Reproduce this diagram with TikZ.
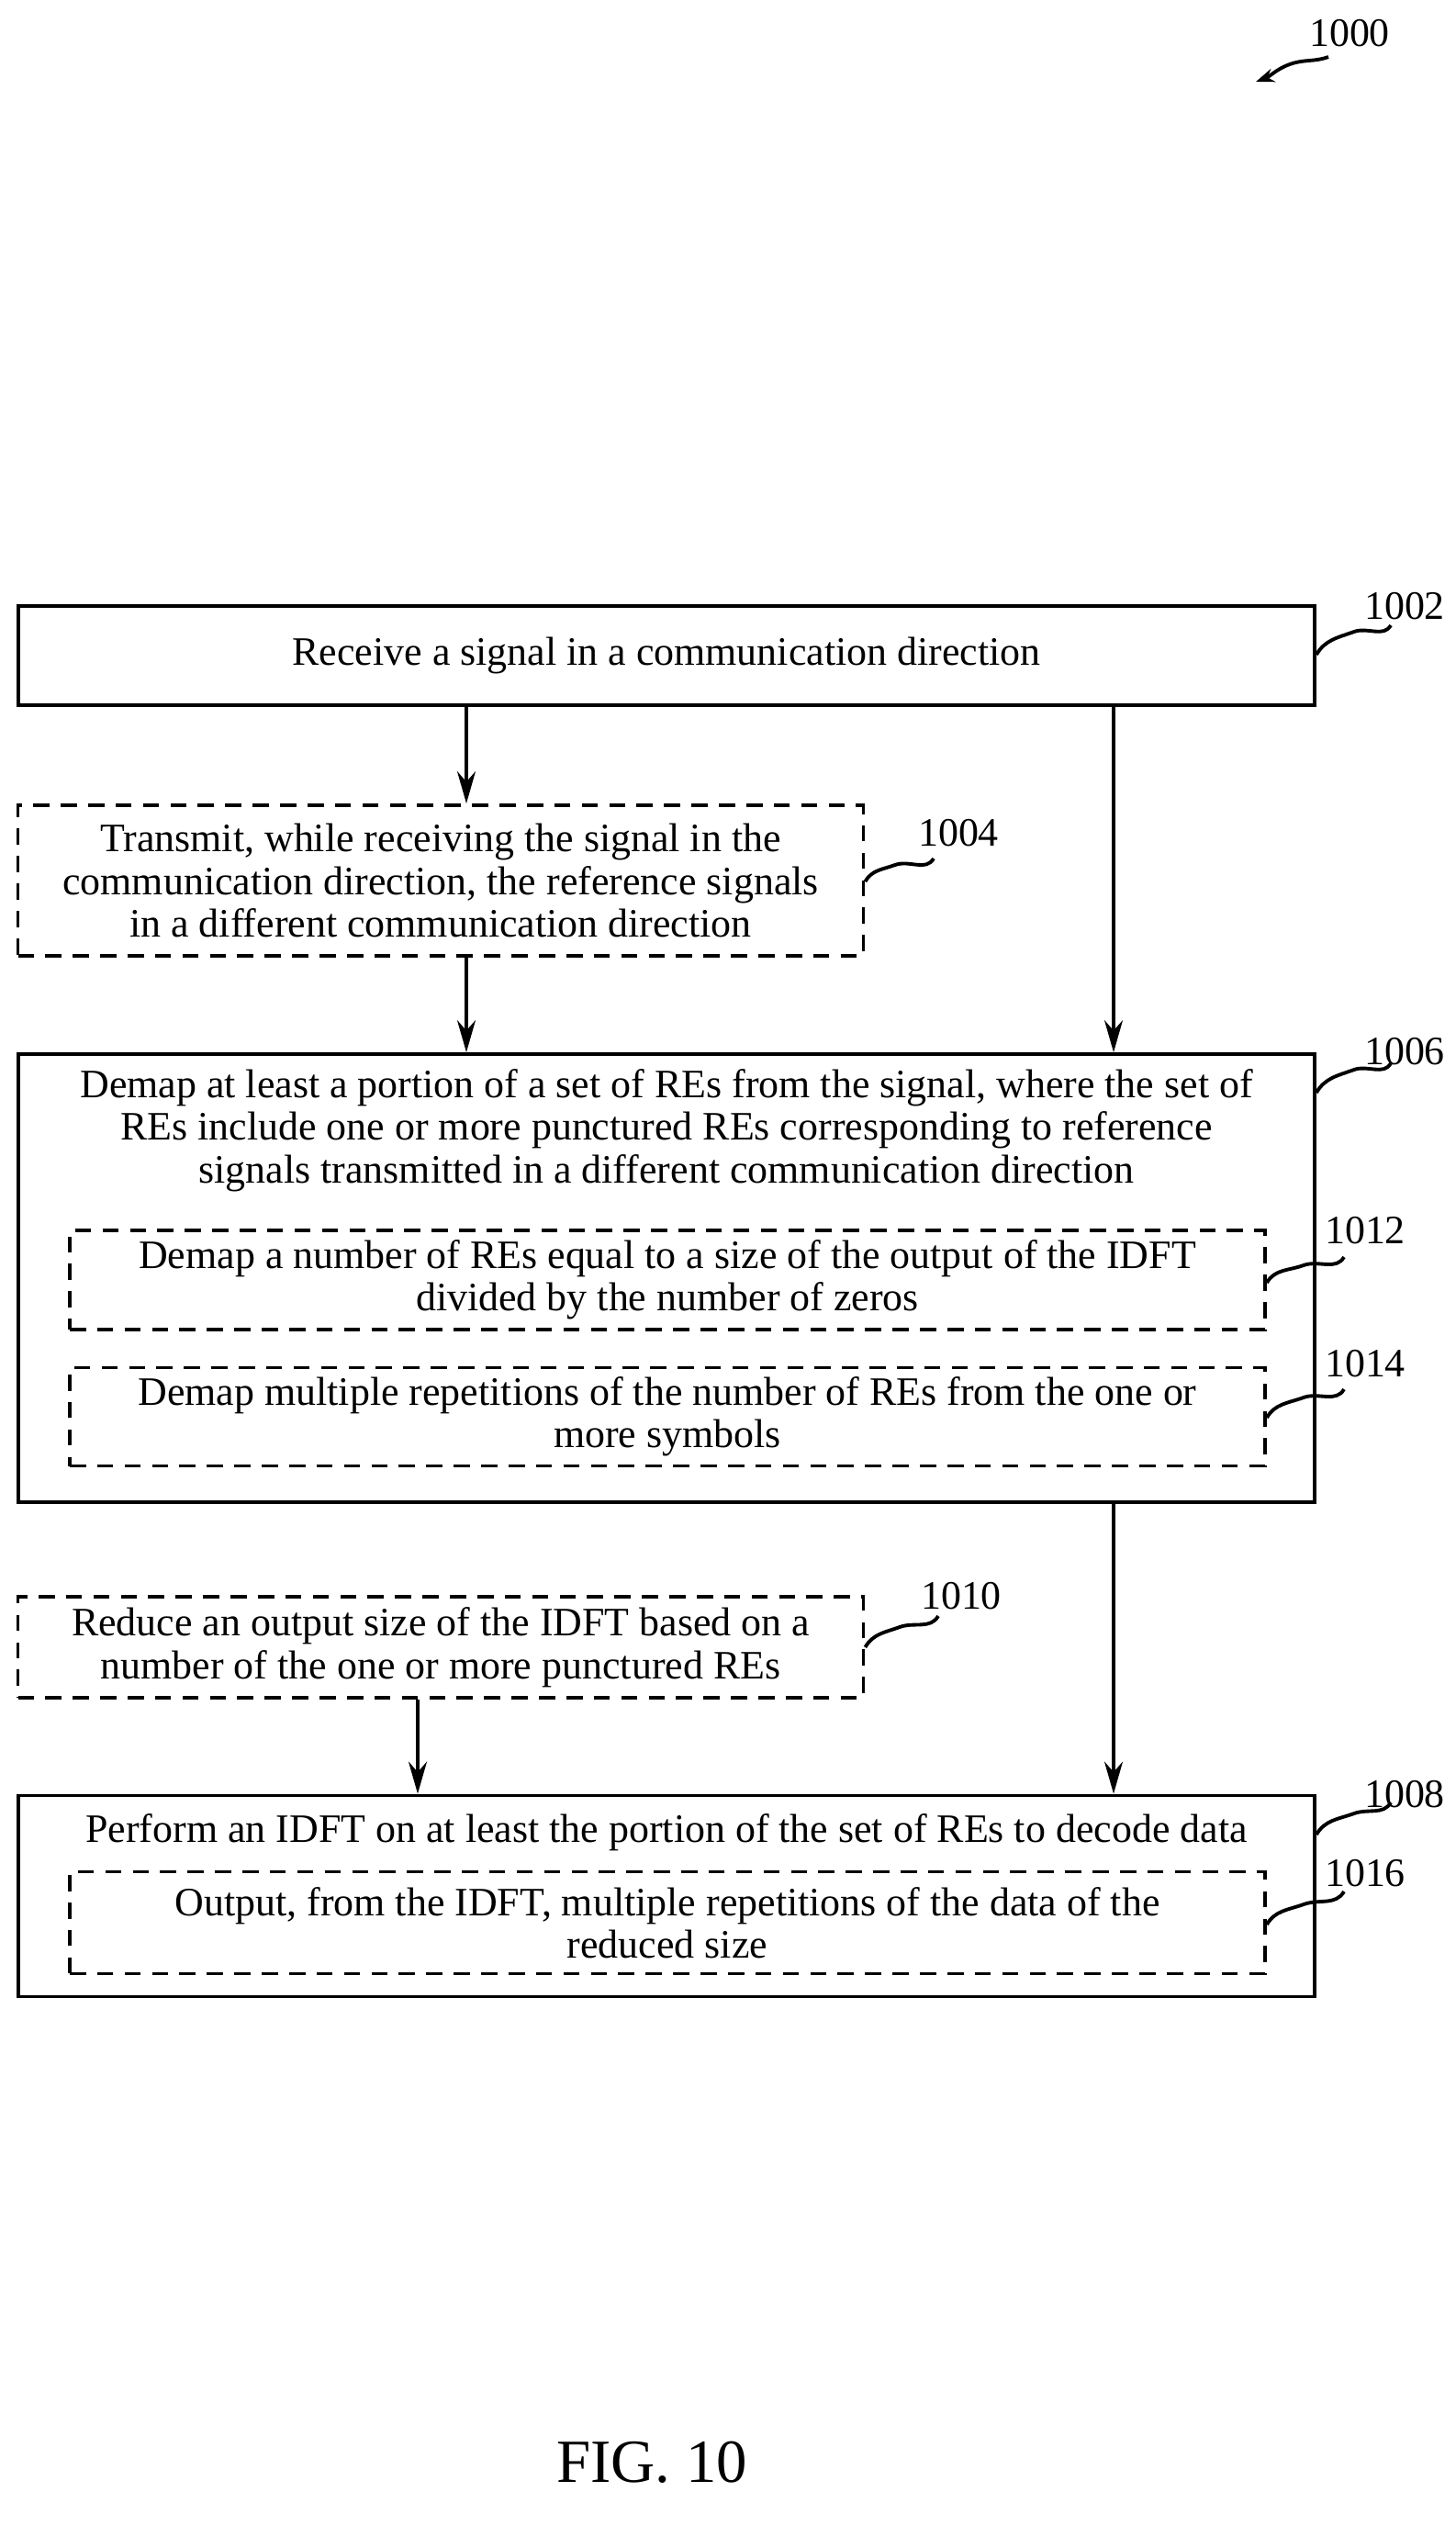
\documentclass[tikz,border=0pt]{standalone}
\usepackage{fontspec}
\setmainfont{Liberation Serif}
\usetikzlibrary{arrows.meta,positioning,calc}

\tikzset{
  box/.style={draw,line width=1.1pt,inner sep=0pt,align=center,font=\fontsize{12.5}{13.2}\selectfont},
  dbox/.style={box,dash pattern=on 5pt off 3.5pt},
  arr/.style={line width=0.9pt,-{Stealth[length=0.35cm,width=0.2cm]}},
  lead/.style={line width=1.1pt},
  num/.style={font=\fontsize{12.5}{13}\selectfont,inner sep=1pt}
}

\begin{document}
\begin{tikzpicture}
	\useasboundingbox (0,0) rectangle (15.86,-27.75);

	% top reference
	\node[num] (n1000) at (14.70,-0.36) {1000};
	\draw[line width=1.1pt,-{Stealth[length=0.2cm,width=0.15cm]}] (14.47,-0.62) to[out=200,in=20] (14.05,-0.70) to[out=200,in=20] (13.68,-0.89);

	% boxes
	\node[box,minimum width=14.12cm,minimum height=1.08cm] (b1002) at (7.26,-7.14) {Receive a signal in a communication direction};
	\node[dbox,minimum width=9.21cm,minimum height=1.64cm] (b1004) at (4.80,-9.59) {Transmit, while receiving the signal in the\\communication direction, the reference signals\\in a different communication direction};
	\node[box,minimum width=14.12cm,minimum height=4.88cm] (b1006) at (7.26,-13.92) {};
	\node[align=center,inner sep=0pt,font=\fontsize{12.5}{13.2}\selectfont] (t1006) at (7.26,-12.31) {Demap at least a portion of a set of REs from the signal, where the set of\\REs include one or more punctured REs corresponding to reference\\signals transmitted in a different communication direction};
	\node[dbox,minimum width=13.02cm,minimum height=1.08cm] (b1012) at (7.27,-13.94) {Demap a number of REs equal to a size of the output of the IDFT\\divided by the number of zeros};
	\node[dbox,minimum width=13.02cm,minimum height=1.07cm] (b1014) at (7.27,-15.43) {Demap multiple repetitions of the number of REs from the one or\\more symbols};
	\node[dbox,minimum width=9.21cm,minimum height=1.10cm] (b1010) at (4.80,-17.94) {Reduce an output size of the IDFT based on a\\number of the one or more punctured REs};
	\node[box,minimum width=14.12cm,minimum height=2.19cm] (b1008) at (7.26,-20.65) {};
	\node[inner sep=0pt,font=\fontsize{12.5}{13.2}\selectfont] (t1008) at (7.26,-19.96) {Perform an IDFT on at least the portion of the set of REs to decode data};
	\node[dbox,minimum width=13.02cm,minimum height=1.11cm] (b1016) at (7.27,-20.94) {Output, from the IDFT, multiple repetitions of the data of the\\reduced size};

	% arrows
	\coordinate (xl) at (5.08,0);
	\coordinate (xr) at (12.13,0);
	\coordinate (xm) at (4.55,0);
	\draw[arr] (b1002.south -| xl) -- (b1004.north -| xl);
	\draw[arr] (b1002.south -| xr) -- (b1006.north -| xr);
	\draw[arr] (b1004.south -| xl) -- (b1006.north -| xl);
	\draw[arr] (b1006.south -| xr) -- (b1008.north -| xr);
	\draw[arr] (b1010.south -| xm) -- (b1008.north -| xm);

	% reference numerals
	\node[num] (n1002) at (15.30,-6.60) {1002};
	\node[num] (n1004) at (10.44,-9.07) {1004};
	\node[num] (n1006) at (15.30,-11.45) {1006};
	\node[num] (n1012) at (14.87,-13.40) {1012};
	\node[num] (n1014) at (14.87,-14.85) {1014};
	\node[num] (n1010) at (10.47,-17.38) {1010};
	\node[num] (n1008) at (15.30,-19.54) {1008};
	\node[num] (n1016) at (14.87,-20.40) {1016};

	\draw[lead] (b1002.east |- 0,-7.13) to[out=60,in=200] (14.75,-6.88) to[out=20,in=240] (15.15,-6.81);
	\draw[lead] (b1004.east |- 0,-9.60) to[out=60,in=200] (9.75,-9.42) to[out=20,in=240] (10.17,-9.35);
	\draw[lead] (b1006.east |- 0,-11.90) to[out=60,in=200] (14.75,-11.65) to[out=20,in=240] (15.15,-11.58);
	\draw[lead] (b1012.east |- 0,-13.97) to[out=60,in=200] (14.20,-13.78) to[out=20,in=240] (14.64,-13.69);
	\draw[lead] (b1014.east |- 0,-15.44) to[out=60,in=200] (14.20,-15.22) to[out=20,in=240] (14.64,-15.13);
	\draw[lead] (b1010.east |- 0,-17.94) to[out=60,in=200] (9.80,-17.72) to[out=20,in=240] (10.22,-17.60);
	\draw[lead] (b1008.east |- 0,-19.98) to[out=60,in=200] (14.75,-19.75) to[out=20,in=240] (15.15,-19.63);
	\draw[lead] (b1016.east |- 0,-20.96) to[out=60,in=200] (14.20,-20.74) to[out=20,in=240] (14.64,-20.60);

	\node[font=\fontsize{19}{20}\selectfont] (fig) at (7.10,-26.82) {FIG. 10};
\end{tikzpicture}
\end{document}
